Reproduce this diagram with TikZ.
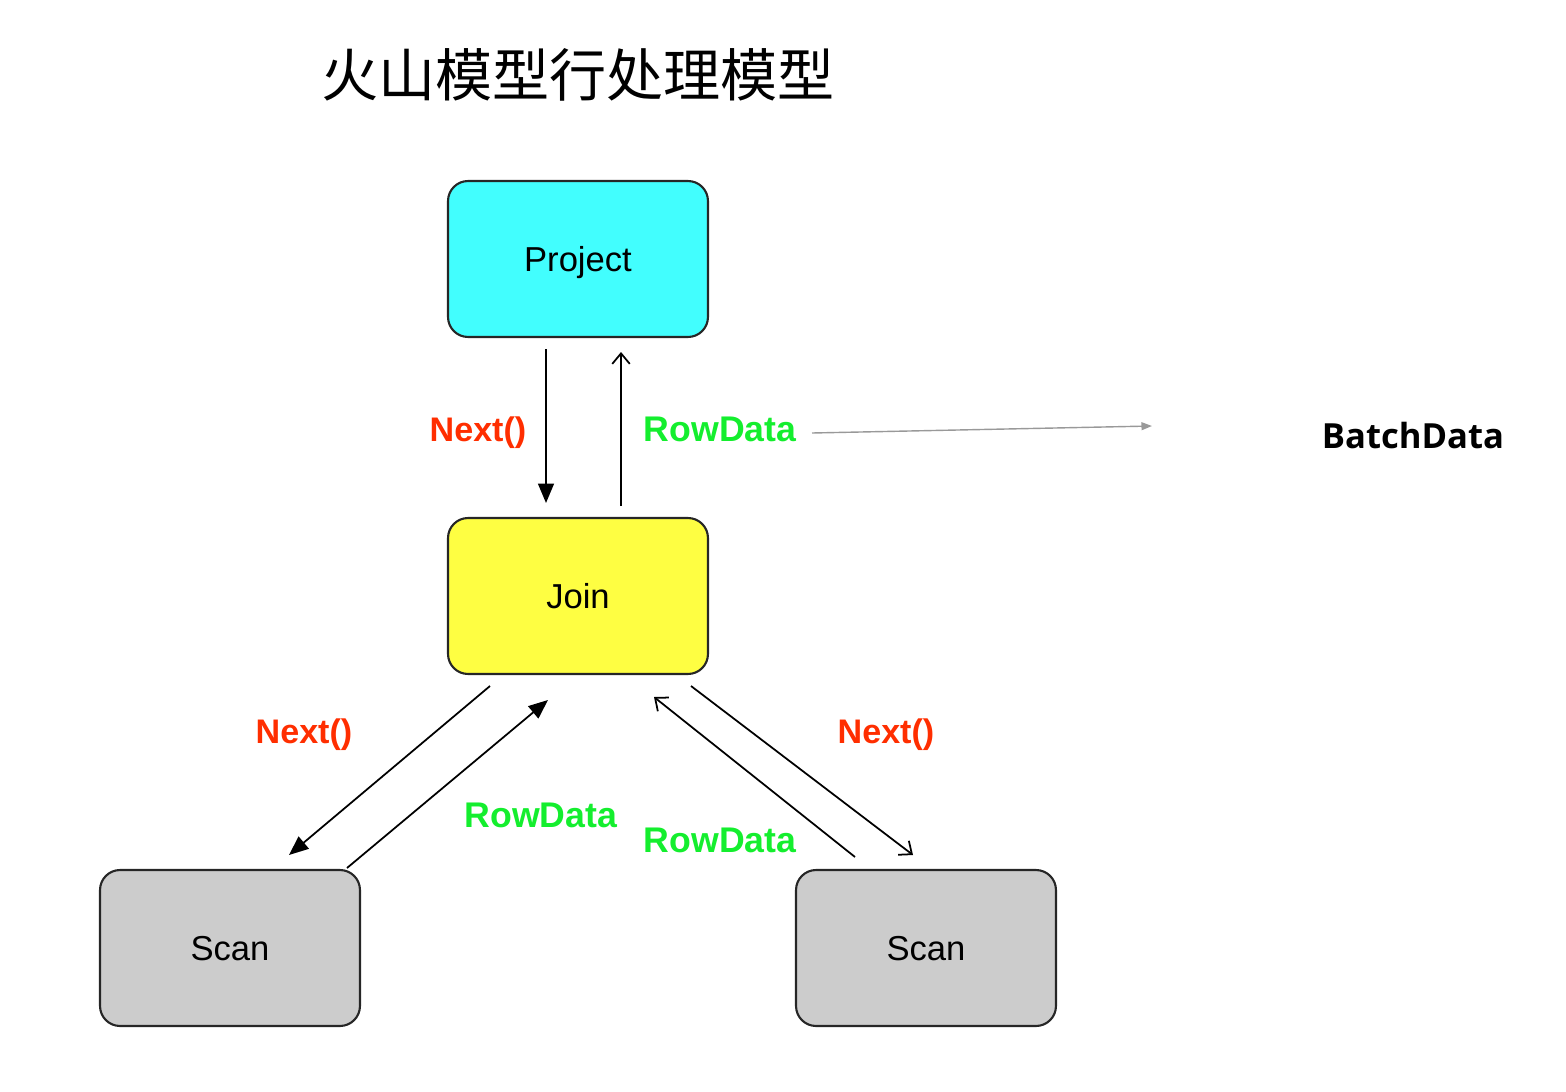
\documentclass[tikz,border=0pt]{standalone}
\usepackage{fontspec}
\setmainfont{Liberation Sans}
\newfontfamily\cjk{Noto Sans CJK SC}
\newfontfamily\opensans{Open Sans}
\usetikzlibrary{arrows.meta}
\definecolor{boxcyan}{HTML}{42FEFE}
\definecolor{boxyellow}{HTML}{FEFE42}
\definecolor{boxgray}{HTML}{CCCCCC}
\definecolor{nextred}{HTML}{FF2E00}
\definecolor{rowgreen}{HTML}{14EE2E}
\begin{document}
\begin{tikzpicture}[x=0.02cm,y=-0.02cm,
  opbox/.style={draw=black!85, line width=1.2pt, rounded corners=0.4cm,
    minimum width=5.2cm, minimum height=3.12cm, inner sep=0pt, text depth=0pt,
    font=\fontsize{19.7}{22}\selectfont},
  nextlbl/.style={text=nextred, font=\fontsize{19.4}{22}\selectfont\bfseries, inner sep=0pt, text depth=0pt},
  rowlbl/.style={text=rowgreen, font=\fontsize{20.3}{22}\selectfont\bfseries, inner sep=0pt, text depth=0pt},
  solidarr/.style={line width=1pt, -{Triangle[length=11pt,width=9pt]}},
  openarr/.style={line width=1pt, -{Straight Barb[length=6pt,width=10pt,line width=1pt]}},
  grayarr/.style={draw=black!40, line width=0.8pt, -{Triangle[length=6pt,width=4.5pt]}}
]
\useasboundingbox (0,0) rectangle (1566,1092);

\node[font=\cjk\fontsize{32.5}{36}\selectfont, inner sep=0pt] (title) at (578,75) {火山模型行处理模型};

\node[opbox, fill=boxcyan] (proj) at (578,259) {Project};
\node[opbox, fill=boxyellow] (join) at (578,596) {Join};
\node[opbox, fill=boxgray] (scanL) at (230,948) {Scan};
\node[opbox, fill=boxgray] (scanR) at (926,948) {Scan};

% labels
\node[nextlbl] (n1) at (478,429) {Next()};
\node[rowlbl] (r1) at (720,429) {RowData};
\node[font=\opensans\fontsize{19.7}{22}\selectfont\bfseries, inner sep=0pt] (batch) at (1413,436) {BatchData};
\node[nextlbl] (n2) at (304,731) {Next()};
\node[rowlbl] (r2) at (541,815) {RowData};
\node[rowlbl] (r3) at (720,840) {RowData};
\node[nextlbl] (n3) at (886,731) {Next()};

% connector end points
\coordinate (a1s) at (546,349);
\coordinate (a1e) at (546,503);
\coordinate (a2s) at (621,506);
\coordinate (a2e) at (621,352);
\coordinate (g1s) at (812,433);
\coordinate (g1e) at (1152,426);
\coordinate (b1s) at (490,686);
\coordinate (b1e) at (289,855);
\coordinate (b2s) at (347,868);
\coordinate (b2e) at (548,700);
\coordinate (c1s) at (855,857);
\coordinate (c1e) at (654,697);
\coordinate (c2s) at (691,686);
\coordinate (c2e) at (913,855);

\draw[solidarr] (a1s) -- (a1e);
\draw[openarr] (a2s) -- (a2e);
\draw[grayarr] (g1s) -- (g1e);
\draw[solidarr] (b1s) -- (b1e);
\draw[solidarr] (b2s) -- (b2e);
\draw[openarr] (c1s) -- (c1e);
\draw[openarr] (c2s) -- (c2e);
\end{tikzpicture}
\end{document}
